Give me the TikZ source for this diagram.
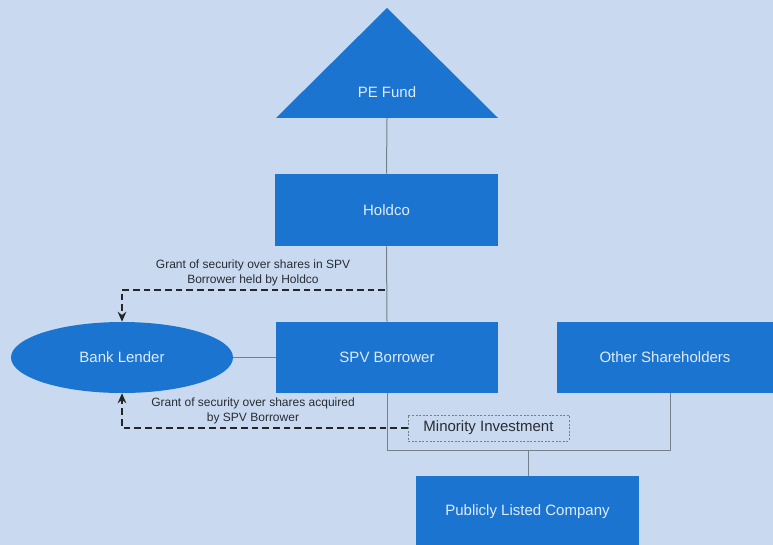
\documentclass[tikz,border=0pt]{standalone}
\usepackage{fontspec}
\setmainfont{Liberation Sans}
\usetikzlibrary{shapes.geometric,arrows.meta}
\definecolor{bgc}{RGB}{201,218,240}
\definecolor{boxc}{RGB}{27,116,208}
\definecolor{boxtext}{RGB}{222,236,250}
\definecolor{linec}{RGB}{118,128,140}
\definecolor{darktext}{RGB}{40,44,52}
\begin{document}
\begin{tikzpicture}[x=0.75pt,y=-0.75pt,
  bluebox/.style={rectangle,fill=boxc,draw=none,inner sep=0pt,text=boxtext,font=\fontsize{11.25}{13}\selectfont},
  conn/.style={draw=linec,line width=0.75pt},
  secarrow/.style={draw=black!85,line width=1.5pt,dash pattern=on 5pt off 3pt,-{Stealth[length=7.5pt,width=6.5pt]}},
  seclabel/.style={align=center,text=darktext,font=\fontsize{9}{11.5}\selectfont,inner sep=0pt}]
\fill[bgc] (0,0) rectangle (773,545);
\useasboundingbox (0,0) rectangle (773,545);
% PE Fund triangle
\fill[boxc] (387,8) -- (498,118) -- (276,118) -- cycle;
\node[text=boxtext,font=\fontsize{11.25}{13}\selectfont,inner sep=0pt] (pe) at (387,92) {PE Fund};
\coordinate (peb) at (387,118);
% boxes
\node[bluebox,minimum width=167.25pt,minimum height=54pt] (holdco) at (386.5,210) {Holdco};
\node[bluebox,minimum width=166.5pt,minimum height=53.25pt] (spv) at (387,357.5) {SPV Borrower};
\node[bluebox,minimum width=162pt,minimum height=53.25pt] (other) at (665,357.5) {Other Shareholders};
\node[bluebox,minimum width=167.25pt,minimum height=54pt] (plc) at (527.5,512) {Publicly Listed Company};
\node[ellipse,fill=boxc,draw=none,inner sep=0pt,minimum width=166.5pt,minimum height=53.25pt,text=boxtext,font=\fontsize{11.25}{13}\selectfont] (bank) at (122,357.5) {Bank Lender};
% minority investment
\node[draw=linec,dash pattern=on 1.5pt off 1.2pt,line width=0.6pt,fill=bgc,minimum width=120.75pt,minimum height=19.5pt,inner sep=0pt,text=darktext,font=\fontsize{11.25}{13}\selectfont] (mi) at (488.5,428) {Minority Investment};
% connectors
\draw[conn] (peb) -- (holdco.north);
\draw[conn] (holdco.south) -- (spv.north);
\draw[conn] (bank.east) -- (spv.west);
\coordinate (jl) at (387,450);
\coordinate (jr) at (670,450);
\coordinate (jm) at (528,450);
\draw[conn] (spv.south) -- (jl) -- (jr) -- (other.south -| jr);
\draw[conn] (jm) -- (plc.north -| jm);
% security arrows
\coordinate (t1) at (385,290);
\coordinate (t2) at (122,290);
\draw[secarrow] (t1) -- (t2) -- (bank.north);
\coordinate (b2) at (122,428);
\draw[secarrow] (mi.west) -- (b2) -- (bank.south);
\node[seclabel] (l1) at (253,273) {Grant of security over shares in SPV\\Borrower held by Holdco};
\node[seclabel] (l2) at (253,411) {Grant of security over shares acquired\\by SPV Borrower};
\end{tikzpicture}
\end{document}
